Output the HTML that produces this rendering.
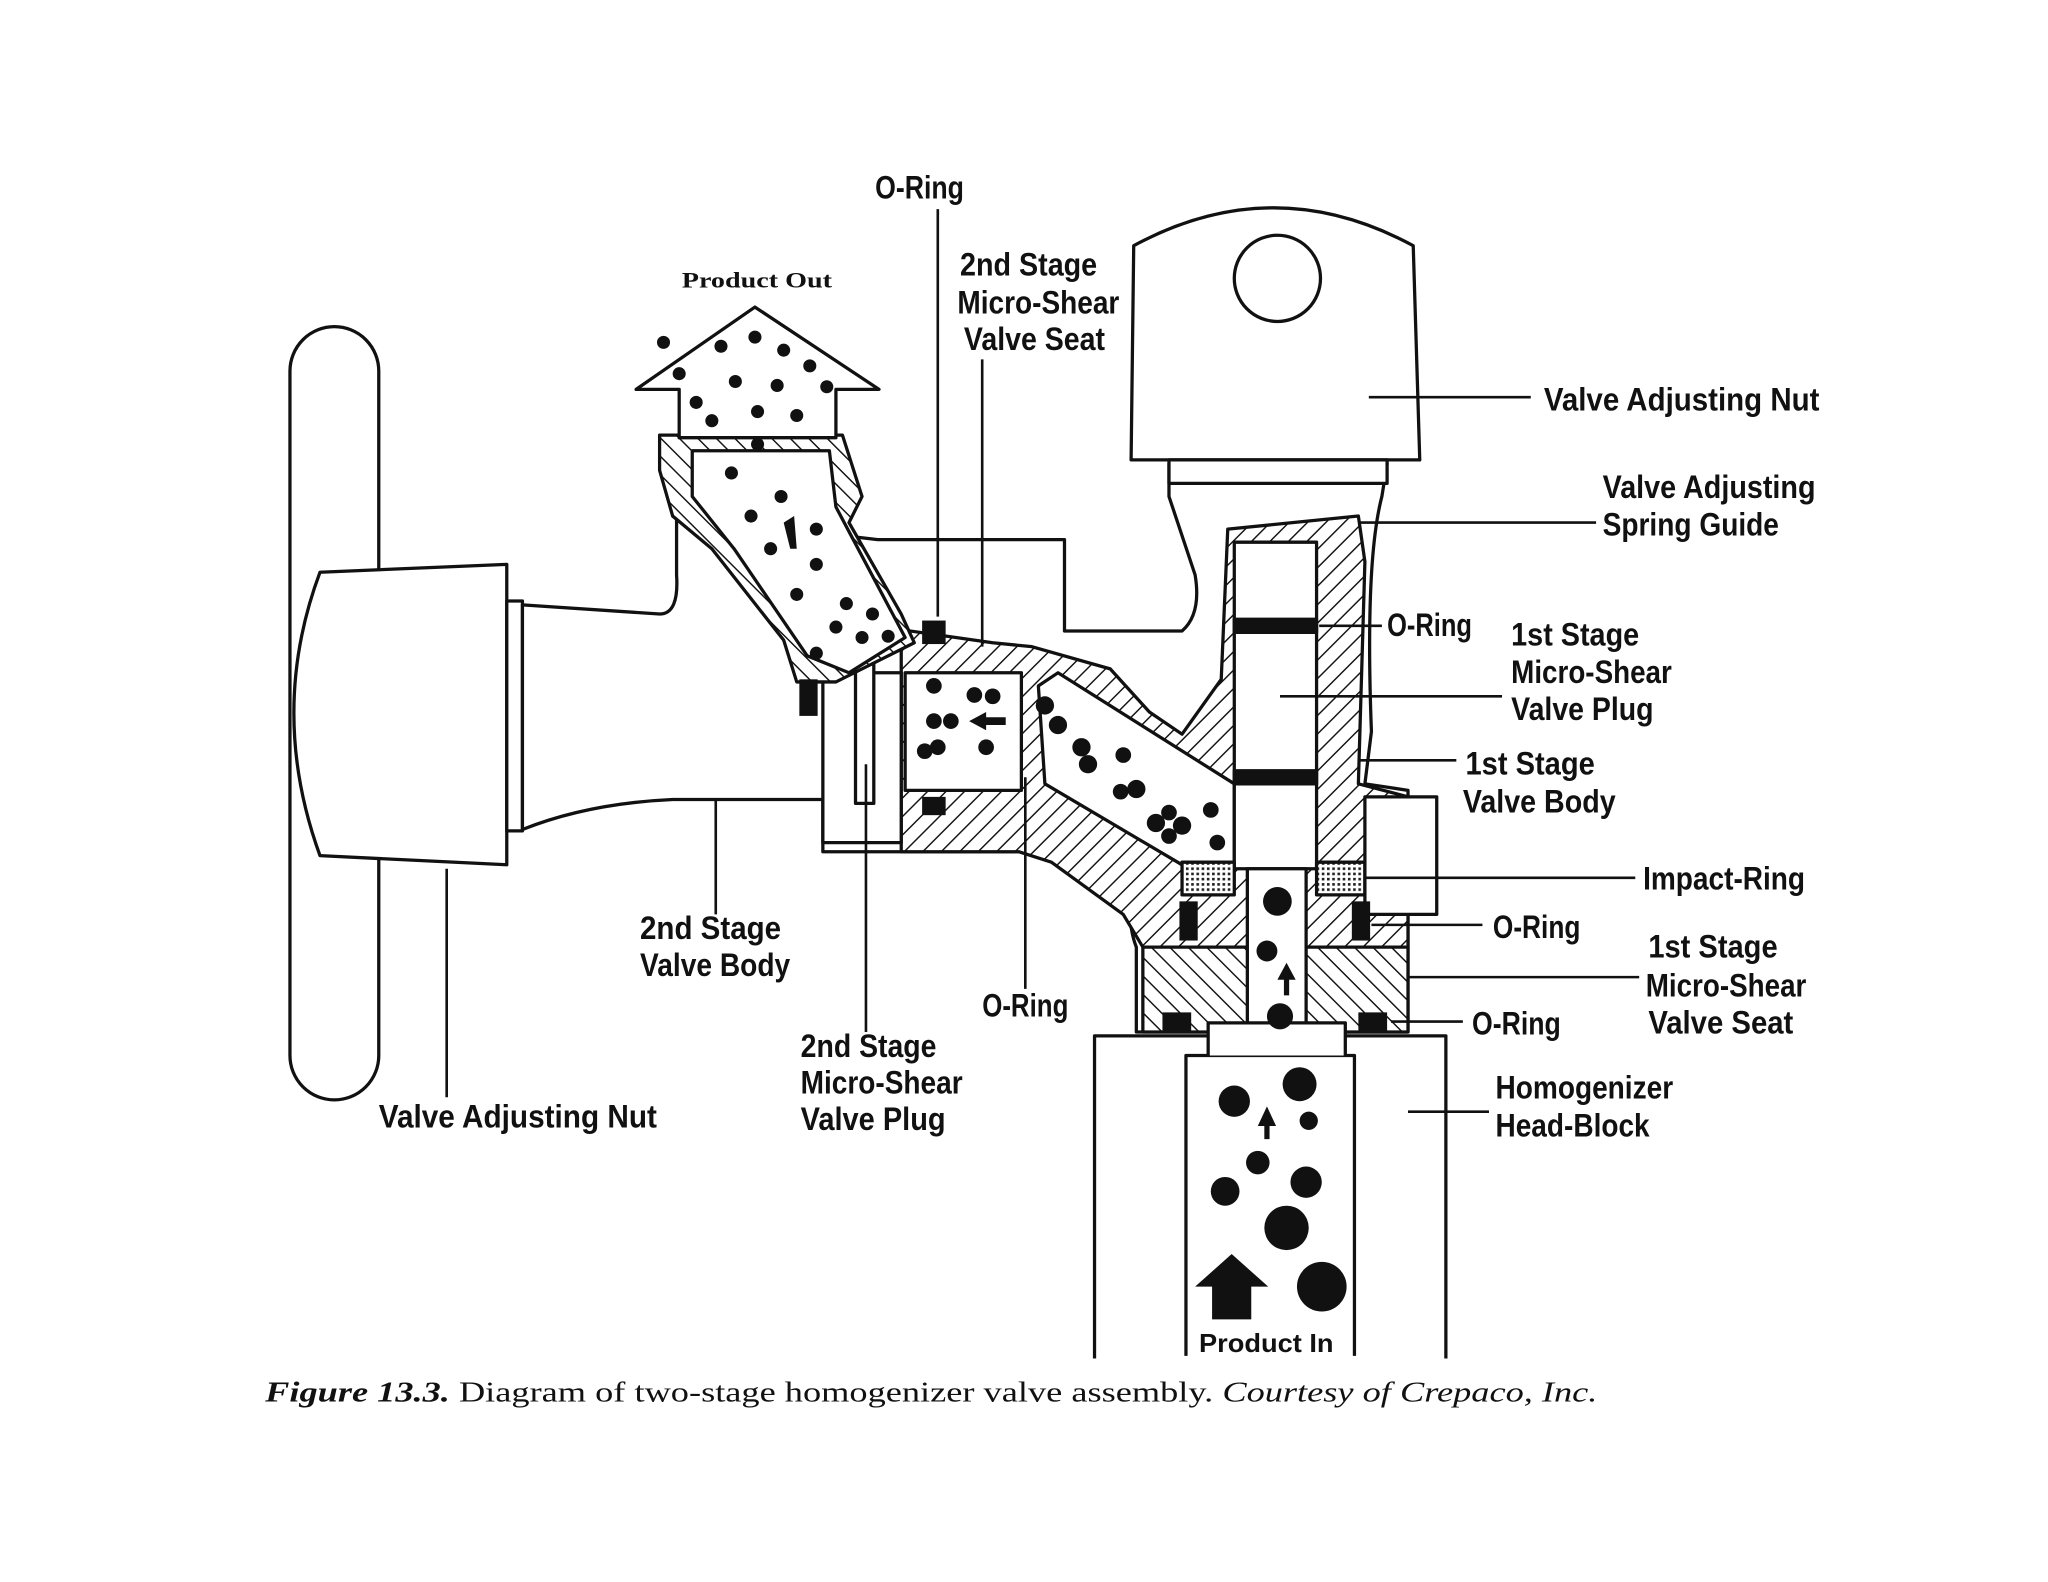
<!DOCTYPE html>
<html><head><meta charset="utf-8"><style>
html,body{margin:0;padding:0;background:#fff}
svg{display:block}
.l{font-family:"Liberation Sans Narrow","Liberation Sans",sans-serif;font-weight:bold;font-size:25px;fill:#111}
.c{font-family:"Liberation Serif",serif;font-size:22px;fill:#111}
</style></head><body>
<svg width="2048" height="1582" viewBox="0 0 1568 1211" xmlns="http://www.w3.org/2000/svg">
<defs>
<pattern id="h" width="10" height="10" patternUnits="userSpaceOnUse" patternTransform="rotate(45)">
<rect width="10" height="10" fill="#fff"/><line x1="0" y1="0" x2="0" y2="10" stroke="#111" stroke-width="2.2"/></pattern>
<pattern id="h2" width="10" height="10" patternUnits="userSpaceOnUse" patternTransform="rotate(-45)">
<rect width="10" height="10" fill="#fff"/><line x1="0" y1="0" x2="0" y2="10" stroke="#111" stroke-width="2.2"/></pattern>
<pattern id="s" width="4" height="4" patternUnits="userSpaceOnUse"><rect width="4" height="4" fill="#fff"/><rect width="2" height="2" fill="#222"/></pattern>
</defs>
<rect width="1568" height="1211" fill="#fff"/>
<g stroke="#111" stroke-width="2.5" fill="#fff" stroke-linejoin="round">
<rect x="222" y="250" width="68" height="592" rx="34"/>
<path d="M388,432 L245,438 Q205,545 245,655 L388,662 Z"/>
<rect x="388" y="460" width="12" height="176"/>
<path d="M400,463 L505,470 Q520,470 518,440 L518,395 L672,413 L815,413 L815,483 L905,483 Q920,470 915,440 L895,380 L895,355 L1062,355 L1058,380 Q1045,430 1050,560 L1045,600 L1078,605 L1078,790 L870,790 L870,725 Q860,700 870,652 L630,652 L630,612 L515,612 Q450,615 400,635 Z"/>
<path fill="url(#h)" d="M690,482 L760,492 L790,495 L850,512 L880,545 L905,562 L935,520 L940,405 L1040,395 L1045,430 L1040,600 L1078,610 L1078,725 L875,725 L860,700 L805,660 L780,652 L690,652 Z"/>
<path fill="url(#h2)" d="M875,725 L1078,725 L1078,790 L875,790 Z"/>
<path d="M795,525 L810,515 L945,600 L945,662 L905,662 L800,600 Z"/>
<rect x="693" y="515" width="89" height="90"/>
<rect x="630" y="515" width="60" height="130"/>
<rect x="655" y="500" width="14" height="115"/>
<path fill="url(#h2)" d="M505,333 L645,333 L660,380 L650,400 L690,470 L700,492 L640,522 L610,522 L600,490 L545,420 L515,395 L505,360 Z"/>
<path d="M530,345 L635,345 L640,388 L693,488 L650,515 L618,502 L562,420 L530,380 Z"/>
<path d="M487,298 L578,235 L673,298 L640,298 L640,335 L520,335 L520,298 Z"/>
<rect x="945" y="415" width="63" height="250"/>
<rect x="945" y="474" width="63" height="10" fill="#111"/>
<rect x="945" y="590" width="63" height="10" fill="#111"/>
<rect x="955" y="665" width="45" height="125"/>
<rect x="905" y="660" width="40" height="25" fill="url(#s)"/>
<rect x="1008" y="660" width="37" height="25" fill="url(#s)"/>
<rect x="1045" y="610" width="55" height="90"/>
<path d="M868,188 Q975,130 1082,188 L1087,352 L866,352 Z"/>
<circle cx="978" cy="213" r="33"/>
<rect x="895" y="352" width="167" height="18"/>
<path d="M838,1040 L838,793 L1107,793 L1107,1040"/>
<path d="M908,1038 L908,808 L1037,808 L1037,1038" fill="none"/>
<path d="M925,808 L925,783 L1030,783 L1030,808" />
</g>
<g fill="#111">
<rect x="612" y="520" width="14" height="28"/><rect x="706" y="475" width="18" height="18"/>
<rect x="706" y="610" width="18" height="14"/><rect x="903" y="690" width="14" height="30"/><rect x="1035" y="690" width="14" height="30"/>
<rect x="890" y="775" width="22" height="14"/><rect x="1040" y="775" width="22" height="14"/>
</g>
<g fill="#111">
<circle cx="508" cy="262" r="5"/><circle cx="552" cy="265" r="5"/><circle cx="578" cy="258" r="5"/><circle cx="600" cy="268" r="5"/><circle cx="620" cy="280" r="5"/>
<circle cx="520" cy="286" r="5"/><circle cx="563" cy="292" r="5"/><circle cx="595" cy="295" r="5"/><circle cx="633" cy="296" r="5"/>
<circle cx="533" cy="308" r="5"/><circle cx="580" cy="315" r="5"/><circle cx="610" cy="318" r="5"/><circle cx="545" cy="322" r="5"/><circle cx="580" cy="340" r="5"/>
<circle cx="560" cy="362" r="5"/><circle cx="598" cy="380" r="5"/><circle cx="575" cy="395" r="5"/><circle cx="625" cy="405" r="5"/><circle cx="590" cy="420" r="5"/>
<circle cx="625" cy="432" r="5"/><circle cx="610" cy="455" r="5"/><circle cx="648" cy="462" r="5"/><circle cx="668" cy="470" r="5"/><circle cx="640" cy="480" r="5"/>
<circle cx="660" cy="488" r="5"/><circle cx="625" cy="500" r="5"/><circle cx="680" cy="487" r="5"/>
<circle cx="715" cy="525" r="6"/><circle cx="746" cy="532" r="6"/><circle cx="760" cy="533" r="6"/><circle cx="715" cy="552" r="6"/><circle cx="728" cy="552" r="6"/>
<circle cx="708" cy="575" r="6"/><circle cx="718" cy="572" r="6"/><circle cx="755" cy="572" r="6"/>
<circle cx="800" cy="540" r="7"/><circle cx="810" cy="555" r="7"/><circle cx="828" cy="572" r="7"/><circle cx="833" cy="585" r="7"/>
<circle cx="860" cy="578" r="6"/><circle cx="870" cy="604" r="7"/><circle cx="858" cy="606" r="6"/><circle cx="895" cy="622" r="6"/><circle cx="885" cy="630" r="7"/><circle cx="905" cy="632" r="7"/><circle cx="895" cy="640" r="6"/><circle cx="927" cy="620" r="6"/><circle cx="932" cy="645" r="6"/>
<circle cx="978" cy="690" r="11"/><circle cx="970" cy="728" r="8"/><circle cx="980" cy="778" r="10"/>
<circle cx="995" cy="830" r="13"/><circle cx="945" cy="843" r="12"/><circle cx="1002" cy="858" r="7"/><circle cx="963" cy="890" r="9"/>
<circle cx="1000" cy="905" r="12"/><circle cx="938" cy="912" r="11"/><circle cx="985" cy="940" r="17"/><circle cx="1012" cy="985" r="19"/>
</g>
<g fill="#111">
<path d="M915,985 L943,960 L971,985 L958,985 L958,1010 L928,1010 L928,985 Z"/>
<path d="M963,862 L970,847 L977,862 L972,862 L972,872 L968,872 L968,862Z"/>
<path d="M978,750 L985,737 L992,750 L987,750 L987,762 L983,762 L983,750Z"/>
<path d="M742,552 L755,545 L755,549 L770,549 L770,555 L755,555 L755,559Z"/>
<path d="M600,400 L608,395 L610,420 L605,420Z"/>
</g>
<g stroke="#111" stroke-width="2" fill="none">
<path d="M718,160 V472"/><path d="M752,275 V495"/><path d="M1048,304 H1172"/><path d="M1040,400 H1222"/>
<path d="M1010,479 H1058"/><path d="M980,533 H1150"/><path d="M1040,582 H1115"/><path d="M1045,672 H1252"/>
<path d="M1050,708 H1135"/><path d="M1078,748 H1255"/><path d="M1065,782 H1120"/><path d="M1078,851 H1140"/>
<path d="M548,612 V700"/><path d="M785,595 V757"/><path d="M663,585 V790"/><path d="M342,665 V840"/>
</g>
<g class="l" lengthAdjust="spacingAndGlyphs">
<text x="670" y="152" textLength="68" lengthAdjust="spacingAndGlyphs">O-Ring</text>
<text x="522" y="220" textLength="115" lengthAdjust="spacingAndGlyphs" style="font-size:17px;font-family:'Liberation Serif',serif">Product Out</text>
<text x="735" y="211" textLength="105" lengthAdjust="spacingAndGlyphs">2nd Stage</text><text x="733" y="240" textLength="124" lengthAdjust="spacingAndGlyphs">Micro-Shear</text><text x="738" y="268" textLength="108" lengthAdjust="spacingAndGlyphs">Valve Seat</text>
<text x="1182" y="314" textLength="211" lengthAdjust="spacingAndGlyphs">Valve Adjusting Nut</text>
<text x="1227" y="381" textLength="163" lengthAdjust="spacingAndGlyphs">Valve Adjusting</text><text x="1227" y="410" textLength="135" lengthAdjust="spacingAndGlyphs">Spring Guide</text>
<text x="1062" y="487" textLength="65" lengthAdjust="spacingAndGlyphs">O-Ring</text>
<text x="1157" y="494" textLength="98" lengthAdjust="spacingAndGlyphs">1st Stage</text><text x="1157" y="523" textLength="123" lengthAdjust="spacingAndGlyphs">Micro-Shear</text><text x="1157" y="551" textLength="109" lengthAdjust="spacingAndGlyphs">Valve Plug</text>
<text x="1122" y="593" textLength="99" lengthAdjust="spacingAndGlyphs">1st Stage</text><text x="1120" y="622" textLength="117" lengthAdjust="spacingAndGlyphs">Valve Body</text>
<text x="1258" y="681" textLength="124" lengthAdjust="spacingAndGlyphs">Impact-Ring</text>
<text x="1143" y="718" textLength="67" lengthAdjust="spacingAndGlyphs">O-Ring</text>
<text x="1262" y="733" textLength="99" lengthAdjust="spacingAndGlyphs">1st Stage</text><text x="1260" y="763" textLength="123" lengthAdjust="spacingAndGlyphs">Micro-Shear</text><text x="1262" y="791" textLength="111" lengthAdjust="spacingAndGlyphs">Valve Seat</text>
<text x="1127" y="792" textLength="68" lengthAdjust="spacingAndGlyphs">O-Ring</text>
<text x="1145" y="841" textLength="136" lengthAdjust="spacingAndGlyphs">Homogenizer</text><text x="1145" y="870" textLength="118" lengthAdjust="spacingAndGlyphs">Head-Block</text>
<text x="490" y="719" textLength="108" lengthAdjust="spacingAndGlyphs">2nd Stage</text><text x="490" y="747" textLength="115" lengthAdjust="spacingAndGlyphs">Valve Body</text>
<text x="752" y="778" textLength="66" lengthAdjust="spacingAndGlyphs">O-Ring</text>
<text x="613" y="809" textLength="104" lengthAdjust="spacingAndGlyphs">2nd Stage</text><text x="613" y="837" textLength="124" lengthAdjust="spacingAndGlyphs">Micro-Shear</text><text x="613" y="865" textLength="111" lengthAdjust="spacingAndGlyphs">Valve Plug</text>
<text x="290" y="863" textLength="213" lengthAdjust="spacingAndGlyphs">Valve Adjusting Nut</text>
<text x="918" y="1035" textLength="103" lengthAdjust="spacingAndGlyphs" style="font-size:20px">Product In</text>
</g>
<text class="c" x="203" y="1073" textLength="1020" lengthAdjust="spacingAndGlyphs"><tspan font-style="italic" font-weight="bold">Figure 13.3.</tspan> Diagram of two-stage homogenizer valve assembly. <tspan font-style="italic">Courtesy of Crepaco, Inc.</tspan></text>
</svg>
</body></html>
